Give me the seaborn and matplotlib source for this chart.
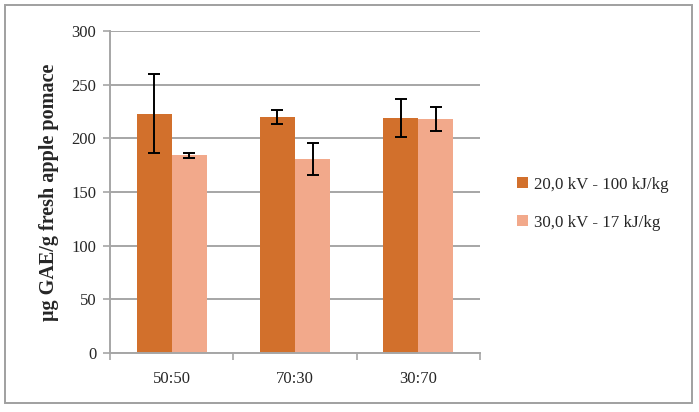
import matplotlib
matplotlib.use("Agg")
import matplotlib.pyplot as plt
import seaborn as sns
import pandas as pd
import numpy as np
from matplotlib.patches import Rectangle

# values
ratios = ["50:50", "70:30", "30:70"]
conditions = ["20,0 kV - 100 kJ/kg", "30,0 kV - 17 kJ/kg"]
means_20kv = [223, 220, 219]
means_30kv = [184, 181, 218]
err_20kv = [36.5, 6.7, 18]
err_30kv = [2.3, 15, 11]
colors = ["#D2702C", "#F2A98B"]

df = pd.DataFrame({
    "ratio": ratios * 2,
    "condition": [conditions[0]] * 3 + [conditions[1]] * 3,
    "value": means_20kv + means_30kv,
    "err": err_20kv + err_30kv,
})

sns.set_style("white")
plt.rcParams["font.family"] = ["Liberation Serif", "DejaVu Serif"]

fig = plt.figure(figsize=(6.99, 4.12), dpi=100)
ax = fig.add_axes([0.1574, 0.1432, 0.5293, 0.7816])

sns.barplot(data=df, x="ratio", y="value", hue="condition", order=ratios,
            hue_order=conditions, palette=colors, width=0.57, errorbar=None,
            saturation=1, linewidth=0, ax=ax, zorder=2)

# error bars on top of each bar
for cont, cond in zip(ax.containers, conditions):
    sub = df[df["condition"] == cond].set_index("ratio").loc[ratios]
    xs = [p.get_x() + p.get_width() / 2 for p in cont]
    ax.errorbar(xs, sub["value"], yerr=sub["err"], fmt="none", ecolor="black",
                elinewidth=1.4, capsize=4, capthick=1.4, zorder=3)

ax.set_ylim(0, 300)
ax.set_xlim(-0.5, 2.5)
ax.set_yticks(np.arange(0, 301, 50))
ax.yaxis.grid(True, color="#a6a6a6", linewidth=1.4, zorder=0)
ax.set_axisbelow(True)

for s in ["top", "right"]:
    ax.spines[s].set_visible(False)
for s in ["left", "bottom"]:
    ax.spines[s].set_color("#a6a6a6")
    ax.spines[s].set_linewidth(1.4)

ax.set_xticks([0, 1, 2])
ax.set_xticklabels(ratios)
ax.set_xticks([-0.5, 0.5, 1.5, 2.5], minor=True)
ax.tick_params(axis="x", which="major", length=0, pad=13, labelsize=12)
ax.tick_params(axis="x", which="minor", length=5, width=1.2, color="#a6a6a6", direction="out")
ax.tick_params(axis="y", length=5, width=1.2, color="#a6a6a6", direction="out", pad=5, labelsize=12)
ax.tick_params(bottom=True, left=True, which="both")

ax.set_xlabel("")
ax.set_ylabel("μg GAE/g fresh apple pomace", fontsize=14.5, fontweight="bold", labelpad=9)

handles, labels = ax.get_legend_handles_labels()
ax.legend(handles, labels, loc="center left", bbox_to_anchor=(0.718, 0.506),
          bbox_transform=fig.transFigure, frameon=False, fontsize=12.2,
          handlelength=0.65, handleheight=0.65, handletextpad=0.35, labelspacing=1.3)

fig.patches.append(Rectangle((0.0072, 0.0218), 0.9828, 0.9661, transform=fig.transFigure,
                             fill=False, edgecolor="#a0a0a0", linewidth=1.4))

fig.savefig("out.png", dpi=100)
